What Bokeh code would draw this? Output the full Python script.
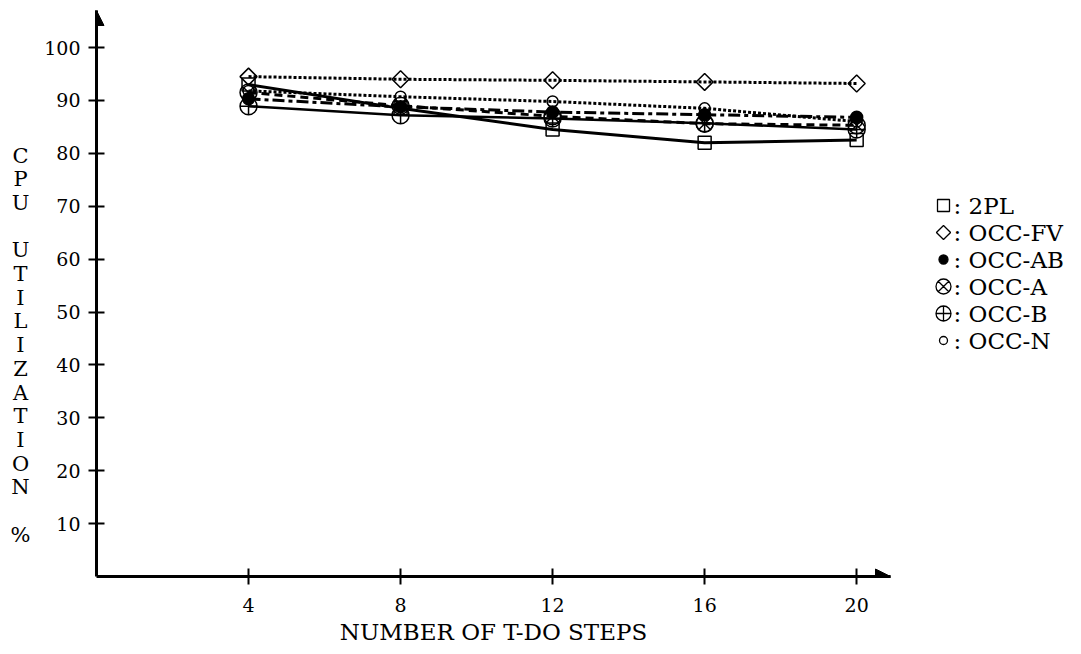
import math

from bokeh.core.properties import value
from bokeh.embed import file_html
from bokeh.layouts import row
from bokeh.models import Arrow, FixedTicker, NormalHead, Range1d
from bokeh.plotting import figure
from bokeh.resources import INLINE

# CPU utilization (%) versus number of T-DO steps
steps = [4, 8, 12, 16, 20]
util_2pl = [93.0, 88.5, 84.5, 82.0, 82.5]
util_occ_fv = [94.5, 94.0, 93.8, 93.5, 93.2]
util_occ_ab = [90.3, 88.8, 87.8, 87.3, 86.8]
util_occ_a = [91.5, 89.0, 87.0, 85.6, 85.3]
util_occ_b = [88.9, 87.2, 86.6, 85.7, 84.5]
util_occ_n = [91.8, 90.7, 89.8, 88.5, 86.0]

series_names = ["2PL", "OCC-FV", "OCC-AB", "OCC-A", "OCC-B", "OCC-N"]
series_values = [util_2pl, util_occ_fv, util_occ_ab, util_occ_a, util_occ_b, util_occ_n]
y_ticks = [10, 20, 30, 40, 50, 60, 70, 80, 90, 100]
y_title = "CPU UTILIZATION %"

FONT = "DejaVu Serif"
INK = "black"

# shared vertical frame: top border 10 px, bottom border 78 px
TOP, BOTTOM, H = 10, 78, 654
FRAME_BOTTOM = H - BOTTOM

# marker / line style per series
styles = {
    "2PL":    dict(marker="square", size=13, angle=0.0, fill=False, dash="solid", lw=3.0, lsize=12),
    "OCC-FV": dict(marker="square", size=12, angle=math.pi / 4, fill=False, dash="3 2", lw=3.0, lsize=10),
    "OCC-AB": dict(marker="circle", size=12, angle=0.0, fill=True, dash="12 4 4 4", lw=3.0, lsize=9),
    "OCC-A":  dict(marker="circle_x", size=17, angle=0.0, fill=False, dash="8 5", lw=3.0, lsize=15),
    "OCC-B":  dict(marker="circle_cross", size=17, angle=0.0, fill=False, dash="solid", lw=2.5, lsize=15),
    "OCC-N":  dict(marker="circle", size=11, angle=0.0, fill=False, dash="3 2", lw=3.0, lsize=8),
}


def side_panel(width, x0):
    """Axis-free panel whose data coordinates equal page pixels."""
    f = figure(
        width=width, height=H,
        x_range=Range1d(x0, x0 + width), y_range=Range1d(FRAME_BOTTOM, TOP),
        output_backend="svg", toolbar_location=None,
        x_axis_type=None, y_axis_type=None,
        min_border_left=0, min_border_right=0,
        min_border_top=TOP, min_border_bottom=BOTTOM,
    )
    f.outline_line_color = None
    f.grid.visible = False
    return f


# ---- left strip: y-axis title written as a column of letters ----
t = side_panel(40, 0)
letters, rows_idx, k = [], [], 0.0
for ch in y_title:
    if ch == " ":
        k += 1.0
        continue
    letters.append(ch)
    rows_idx.append(k)
    k += 1.0
letter_y = [155 + 23.7 * r for r in rows_idx]
t.text(x=[20] * len(letters), y=letter_y, text=letters,
       text_font=value(FONT), text_font_size="21px",
       text_align="center", text_baseline="middle", text_color=INK)

# ---- main chart ----
p = figure(
    width=870, height=H,
    x_range=Range1d(0, 20.89), y_range=Range1d(0, 107.0),
    output_backend="svg", toolbar_location=None,
    min_border_left=56, min_border_right=20, min_border_top=TOP, min_border_bottom=BOTTOM,
)
p.outline_line_color = None
p.grid.visible = False

for ax in (p.xaxis[0], p.yaxis[0]):
    ax.axis_line_width = 3
    ax.axis_line_color = INK
    ax.major_tick_in = 8
    ax.major_tick_out = 8
    ax.major_tick_line_width = 2
    ax.major_tick_line_color = INK
    ax.minor_tick_line_color = None
    ax.major_label_text_font = FONT
    ax.major_label_text_font_size = "19px"
    ax.major_label_text_color = INK

p.xaxis.ticker = FixedTicker(ticks=steps)
p.yaxis.ticker = FixedTicker(ticks=y_ticks)
p.xaxis.major_label_standoff = 13
p.yaxis.major_label_standoff = 8
p.xaxis.axis_label = "NUMBER OF T-DO STEPS"
p.xaxis.axis_label_text_font = FONT
p.xaxis.axis_label_text_font_size = "23px"
p.xaxis.axis_label_text_font_style = "normal"
p.xaxis.axis_label_text_color = INK
p.xaxis.axis_label_standoff = 4

# arrow heads at the ends of both axes
p.add_layout(Arrow(end=NormalHead(size=15, fill_color=INK, line_color=INK),
                   x_start=20.3, x_end=20.89, y_start=0, y_end=0,
                   line_width=3, line_color=INK))
p.add_layout(Arrow(end=NormalHead(size=15, fill_color=INK, line_color=INK),
                   x_start=0, x_end=0, y_start=104, y_end=107.0,
                   line_width=3, line_color=INK))

for name, vals in zip(series_names, series_values):
    st = styles[name]
    p.line(steps, vals, line_color=INK, line_width=st["lw"], line_dash=st["dash"])
for name, vals in zip(series_names, series_values):
    st = styles[name]
    p.scatter(steps, vals, marker=st["marker"], size=st["size"], angle=st["angle"],
              line_color=INK, line_width=1.5,
              fill_color=INK if st["fill"] else None)

# ---- key panel on the right: one row per series ----
q = side_panel(171, 910)
row_y = [205 + 27 * i for i in range(len(series_names))]
for name, ry in zip(series_names, row_y):
    st = styles[name]
    q.scatter([943], [ry], marker=st["marker"], size=st["lsize"], angle=st["angle"],
              line_color=INK, line_width=1.3,
              fill_color=INK if st["fill"] else None)
q.text(x=[953] * len(series_names), y=row_y,
       text=[": " + n for n in series_names],
       text_font=value(FONT), text_font_size="23px",
       text_baseline="middle", text_align="left", text_color=INK)

layout = row(t, p, q)
open("out.html", "w").write(file_html(layout, INLINE))
